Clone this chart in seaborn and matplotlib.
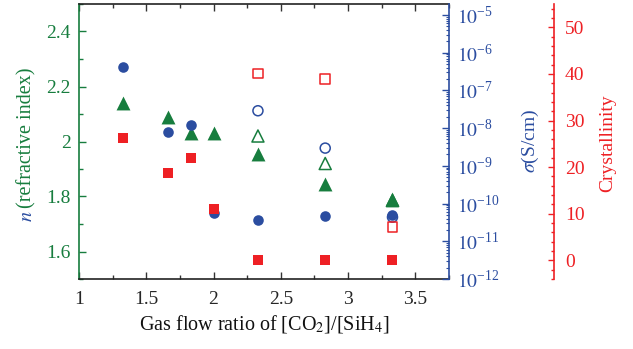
import numpy as np
import pandas as pd
import matplotlib
matplotlib.use("Agg")
import matplotlib.pyplot as plt
import matplotlib.ticker as mticker
import seaborn as sns

# data
ratio = [1.33, 1.66, 1.83, 2.0, 2.33, 2.83, 3.33]
n_filled = [2.14, 2.09, 2.03, 2.03, 1.955, 1.845, 1.79]
sigma_filled = [10**-6.37, 10**-8.09, 10**-7.92, 10**-10.24, 10**-10.43, 10**-10.33, 10**-10.30]
cryst_filled = [26.3, 18.7, 21.9, 11.0, 0.0, 0.0, 0.0]

ratio_open = [2.33, 2.83, 3.33]
n_open = [2.02, 1.92, 1.785]
sigma_open = [10**-7.54, 10**-8.53, 10**-10.36]
cryst_open = [40.1, 38.9, 7.2]

green = "#177d3e"
blue = "#2b4da0"
red = "#ee2024"

sns.set_theme(style="ticks")
plt.rcParams["font.family"] = ["Liberation Serif", "DejaVu Serif"]
plt.rcParams["mathtext.fontset"] = "stix"
plt.rcParams["xtick.direction"] = "in"
plt.rcParams["ytick.direction"] = "in"

df = pd.DataFrame({"ratio": ratio, "n": n_filled, "sigma": sigma_filled, "cryst": cryst_filled})
dfo = pd.DataFrame({"ratio": ratio_open, "n": n_open, "sigma": sigma_open, "cryst": cryst_open})

fig = plt.figure(figsize=(6.33, 3.49), dpi=100)
ax = fig.add_axes([79 / 633, 1 - 279 / 349, 370 / 633, 275 / 349])
ax2 = ax.twinx()
ax3 = ax.twinx()

# refractive index (triangles)
sns.scatterplot(data=df, x="ratio", y="n", ax=ax, marker="^", s=100, color=green, edgecolor=green, linewidth=0, legend=False)
sns.scatterplot(data=dfo, x="ratio", y="n", ax=ax, marker="^", s=75, facecolor="none", edgecolor=green, linewidth=1.1, legend=False)

# conductivity (circles)
sns.scatterplot(data=df, x="ratio", y="sigma", ax=ax2, marker="o", s=58, color=blue, edgecolor=blue, linewidth=0, legend=False)
sns.scatterplot(data=dfo, x="ratio", y="sigma", ax=ax2, marker="o", s=52, facecolor="none", edgecolor=blue, linewidth=1.1, legend=False)

# crystallinity (squares)
sns.scatterplot(data=df, x="ratio", y="cryst", ax=ax3, marker="s", s=55, color=red, edgecolor=red, linewidth=0, legend=False)
sns.scatterplot(data=dfo, x="ratio", y="cryst", ax=ax3, marker="s", s=48, facecolor="none", edgecolor=red, linewidth=1.1, legend=False)

fmt = mticker.FuncFormatter(lambda v, p: "%g" % v)
logfmt = mticker.FuncFormatter(lambda v, p: r"$10^{\mathregular{-%d}}$" % round(-np.log10(v)))

# main axis
ax.set_xlim(1, 3.75)
ax.set_ylim(1.5, 2.5)
ax.xaxis.set_major_locator(mticker.MultipleLocator(0.5))
ax.xaxis.set_minor_locator(mticker.MultipleLocator(0.25))
ax.yaxis.set_major_locator(mticker.MultipleLocator(0.2))
ax.yaxis.set_minor_locator(mticker.MultipleLocator(0.1))
ax.xaxis.set_major_formatter(fmt)
ax.yaxis.set_major_formatter(fmt)
ax.tick_params(axis="x", which="both", top=True, bottom=True, labelsize=14, pad=9, color="#333333")
ax.tick_params(axis="x", which="major", length=5, width=1)
ax.tick_params(axis="x", which="minor", length=3, width=1)
ax.tick_params(axis="y", which="both", left=True, right=False, labelsize=14, pad=6, colors=green)
ax.tick_params(axis="y", which="major", length=5, width=1)
ax.tick_params(axis="y", which="minor", length=3, width=1)
ax.spines["left"].set_color(green)
ax.spines["right"].set_visible(False)
for s in ["top", "bottom"]:
    ax.spines[s].set_color("#222222")
for s in ax.spines.values():
    s.set_linewidth(1.2)
ax.set_xlabel("")
ax.set_ylabel("")

# conductivity axis
ax2.set_yscale("log")
ax2.set_ylim(1e-12, 10**-4.71)
ax2.yaxis.set_major_locator(mticker.LogLocator(base=10, numticks=30))
ax2.yaxis.set_minor_locator(mticker.LogLocator(base=10, subs=np.arange(2, 10), numticks=30))
ax2.yaxis.set_major_formatter(logfmt)
ax2.yaxis.set_minor_formatter(mticker.NullFormatter())
ax2.tick_params(axis="y", which="both", colors=blue, labelsize=14, pad=6)
ax2.tick_params(axis="y", which="major", length=5, width=1)
ax2.tick_params(axis="y", which="minor", length=2.5, width=0.8)
for s in ["left", "top", "bottom"]:
    ax2.spines[s].set_visible(False)
ax2.spines["right"].set_color(blue)
ax2.spines["right"].set_linewidth(1.2)
ax2.set_ylabel("")

# crystallinity axis
ax3.set_ylim(-4, 55)
ax3.spines["right"].set_position(("axes", 1 + 105 / 370))
ax3.yaxis.set_major_locator(mticker.MultipleLocator(10))
ax3.yaxis.set_minor_locator(mticker.MultipleLocator(2))
ax3.tick_params(axis="y", which="both", colors=red, labelsize=14, pad=8)
ax3.tick_params(axis="y", which="major", length=4, width=1)
ax3.tick_params(axis="y", which="minor", length=2.5, width=1)
for s in ["left", "top", "bottom"]:
    ax3.spines[s].set_visible(False)
ax3.spines["right"].set_color(red)
ax3.spines["right"].set_linewidth(1.2)
ax3.set_ylabel("")

# labels
fig.text(31.7 / 633, 1 - 221.7 / 349, "$n$", color=blue, fontsize=14.5, rotation=90,
         rotation_mode="anchor", ha="left", va="baseline")
fig.text(31.7 / 633, 1 - 208 / 349, "(refractive index)", color=green, fontsize=14.5, rotation=90,
         rotation_mode="anchor", ha="left", va="baseline")
fig.text(530 / 633, 1 - 141 / 349, r"$\sigma$(S/cm)", color=blue, fontsize=14, rotation=90,
         ha="center", va="center")
fig.text(608 / 633, 1 - 143 / 349, "Crystallinity", color=red, fontsize=14, rotation=90,
         ha="center", va="center")
fig.text(264 / 633, 1 - 324 / 349, "Gas flow ratio of [CO$_2$]/[SiH$_4$]", color="#111111",
         fontsize=14.5, ha="center", va="center")

fig.savefig("out.png", dpi=100)
